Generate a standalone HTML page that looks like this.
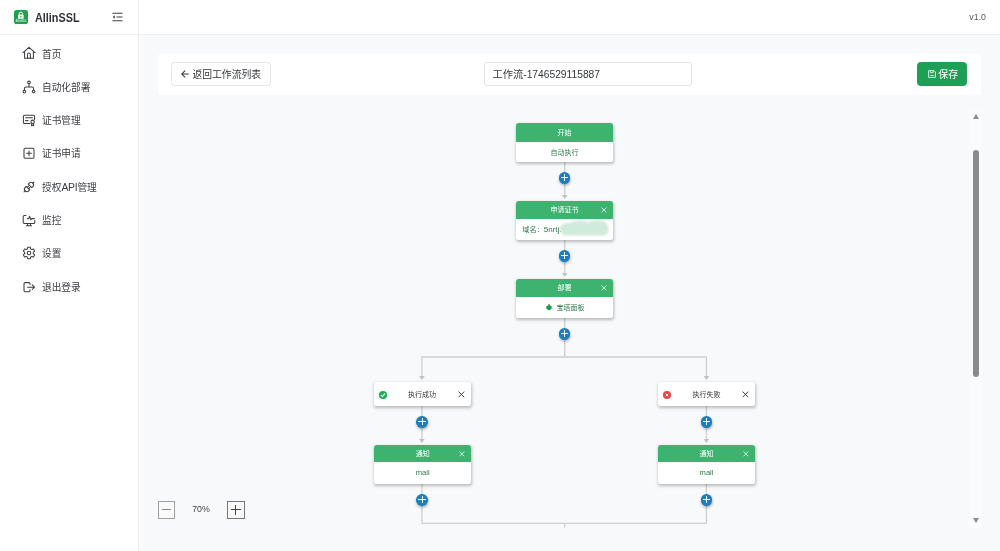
<!DOCTYPE html>
<html lang="zh-CN">
<head>
<meta charset="utf-8">
<title>AllinSSL</title>
<style>
*{box-sizing:border-box;margin:0;padding:0}
html,body{width:1000px;height:551px;overflow:hidden}
body{position:relative;background:#f8f9fb;font-family:"Liberation Sans","Noto Sans CJK SC",sans-serif;color:#333639;font-size:9.8px}
.abs{position:absolute}
#side{position:absolute;left:0;top:35px;width:139px;height:516px;background:#fff;border-right:1px solid #ececf0}
#top{position:absolute;left:0;top:0;width:1000px;height:35px;background:#fff;border-bottom:1px solid #efeff2}
#brand{position:absolute;left:35px;top:10px;font-size:12.4px;font-weight:bold;color:#303236;line-height:16px;transform:scaleX(.875);transform-origin:0 0}
#ver{position:absolute;right:14px;top:11.3px;font-size:8.8px;color:#55585c;line-height:12px}
.mi{position:absolute;left:42px;height:14px;line-height:14px;font-size:9.7px;color:#3a3c40;white-space:nowrap}
.ico{position:absolute;left:22px;width:14px;height:14px}
.ico svg{display:block;width:14px;height:14px;fill:none;stroke:#3c3f43;stroke-width:1.05;stroke-linecap:round;stroke-linejoin:round}
#bar{position:absolute;left:158px;top:53.5px;width:823px;height:41.5px;background:#fff;border-radius:3px}
.btn{position:absolute;top:62.4px;height:23.2px;border:1px solid #e4e4e9;border-radius:3px;background:#fff;font-size:9.8px;line-height:23.6px;color:#333639;white-space:nowrap}
.node{position:absolute;width:97.3px;background:#fff;border-radius:2.8px;box-shadow:.3px 1.2px 3.2px rgba(0,0,0,.25);overflow:hidden}
.node .h{height:18px;background:#3eb370;color:#fff;font-size:7px;line-height:18.8px;text-align:center;position:relative}
.node .b{height:21px;color:#30794f;font-size:7px;line-height:21.6px;text-align:center;white-space:nowrap}
.cond{position:absolute;width:97.3px;height:24.3px;background:#fff;border-radius:2.8px;box-shadow:.3px 1.2px 3.2px rgba(0,0,0,.25);font-size:7px;line-height:25.3px;text-align:center;color:#333}
.x{position:absolute;right:6.4px;top:50%;width:5.8px;height:5.8px;margin-top:-2.7px}
.x svg{display:block;width:5.8px;height:5.8px}
.plus{position:absolute;width:11.6px;height:11.6px;border-radius:50%;background:#1c7dc0;box-shadow:.4px 1.4px 3px rgba(0,0,0,.32)}
.plus:before{content:"";position:absolute;left:2.2px;right:2.2px;top:5.35px;height:.9px;background:rgba(255,255,255,.95)}
.plus:after{content:"";position:absolute;top:2.2px;bottom:2.2px;left:5.35px;width:.9px;background:rgba(255,255,255,.95)}
.vl{position:absolute;width:1.5px;background:#d2d2d2}
.hl{position:absolute;height:1.5px;background:#d2d2d2}
.ar{position:absolute;width:0;height:0;border-left:3.2px solid transparent;border-right:3.2px solid transparent;border-top:4.6px solid #c6c6c6}
.zb{position:absolute;top:501px;width:17.5px;height:17.5px;border:1px solid #8e8e8e;background:#fafafa}
</style>
</head>
<body>
<div id="wrap" style="position:absolute;left:0;top:0;width:1000px;height:551px;will-change:transform">
<div id="top"></div>
<div id="side"></div>
<div class="abs" style="left:138px;top:0;width:1px;height:35px;background:#f0f0f3"></div>
<div class="abs" style="left:139px;top:35px;width:7px;height:516px;background:linear-gradient(to right,#fcfcfd,#f8f9fb)"></div>
<!-- brand -->
<div class="abs" style="left:14px;top:10px;width:14px;height:14px;border-radius:2.600px;background:#21a04c;overflow:hidden">
<svg viewBox="0 0 14 14" width="14" height="14" style="display:block"><rect x="4.100" y="4.500" width="5.500" height="4.300" rx=".5" fill="#fff"/><path d="M5.200 4.600V3.700a1.650 1.650 0 0 1 3.300 0V4.600" fill="none" stroke="#fff" stroke-width="1"/><rect x="6.200" y="5.700" width="1.300" height="1.700" rx=".4" fill="#21a04c"/><text x="7" y="11.900" font-size="2.700" font-weight="bold" text-anchor="middle" fill="#c4ebd0" font-family="Liberation Sans, sans-serif">AllinSSL</text></svg>
</div>
<div id="brand">AllinSSL</div>
<svg class="abs" style="left:112px;top:12.300px" width="11" height="10" viewBox="0 0 11 10" fill="none" stroke="#3c3f43" stroke-width="1.050"><path d="M0.5 1.200H10.500M4.500 5H10.500M0.500 8.800H10.500"/><path d="M2.8 3.2L0.6 5l2.2 1.8z" fill="#45484c" stroke="none"/></svg>
<div id="ver">v1.0</div>

<!-- menu -->
<div class="ico" style="top:46px"><svg viewBox="0 0 14 14"><path d="M1 6.6L7 1.3l6 5.3"/><path d="M2.6 5.6v6.6h8.8V5.6"/><path d="M5.6 12.2V8.4a1.4 1.4 0 0 1 2.8 0v3.8"/></svg></div>
<div class="mi" style="top:47.5px">首页</div>
<div class="ico" style="top:79.7px"><svg viewBox="0 0 14 14"><circle cx="7" cy="2.4" r="1.3"/><circle cx="2.4" cy="11.6" r="1.3"/><circle cx="11.6" cy="11.6" r="1.3"/><path d="M7 3.7v3.2M2.4 10.3V8.4a1.5 1.5 0 0 1 1.5-1.5h6.2a1.5 1.5 0 0 1 1.5 1.5v1.9"/></svg></div>
<div class="mi" style="top:80.8px">自动化部署</div>
<div class="ico" style="top:113.400px"><svg viewBox="0 0 14 14"><path d="M8 10.4H2.6A1.2 1.2 0 0 1 1.4 9.200000000000001V3.4A1.2 1.2 0 0 1 2.6 2.2h8.8a1.2 1.2 0 0 1 1.2 1.2v3"/><path d="M3.6 4.8h6.8M3.600 7.6h2.400"/><circle cx="10.600" cy="8.8" r="1.7"/><path d="M9.6 10.200v2.600l1-.7 1 .7v-2.600"/></svg></div>
<div class="mi" style="top:114.1px">证书管理</div>
<div class="ico" style="top:146.300px"><svg viewBox="0 0 14 14"><rect x="2" y="2.300" width="10" height="10" rx="1.400"/><path d="M7 4.900v4.800M4.600 7.300h4.800"/></svg></div>
<div class="mi" style="top:147.4px">证书申请</div>
<div class="ico" style="top:179.600px"><svg viewBox="0 0 14 14"><g transform="rotate(-45 7 7)"><path d="M0 7H1.600M12.400 7H14"/><path d="M5.500 4.500H4.100A2.500 2.500 0 0 0 4.100 9.500H5.500Z"/><path d="M8.500 4.500H9.900A2.500 2.500 0 0 1 9.900 9.500H8.500Z"/><path d="M5.500 6H7.300M5.500 8H7.300"/></g></svg></div>
<div class="mi" style="top:180.7px">授权<span style="font-size:10.400px;letter-spacing:-.25px">API</span>管理</div>
<div class="ico" style="top:213px"><svg viewBox="0 0 14 14"><path d="M4 2.400H2.400A1.200 1.200 0 0 0 1.200 3.600v5.600a1.200 1.200 0 0 0 1.200 1.200h9.200a1.200 1.200 0 0 0 1.200-1.200V7.600"/><path d="M5.400 5.600h1.200l1-2.400 1.200 3.600.8-1.200h2.800"/><path d="M4.400 12.800h5.200M5.600 10.400v2.400M8.400 10.400v2.400"/></svg></div>
<div class="mi" style="top:214.1px">监控</div>
<div class="ico" style="top:246.300px"><svg viewBox="0 0 14 14"><circle cx="7" cy="7" r="1.800"/><path d="M5.800 1.200h2.400l.4 1.700 1.100.6 1.700-.5 1.200 2.100-1.300 1.200v1.400l1.300 1.200-1.200 2.100-1.700-.5-1.100.6-.4 1.700H5.800l-.4-1.700-1.100-.6-1.700.5-1.200-2.100 1.300-1.200V6.300L1.400 5.100l1.200-2.100 1.700.5 1.100-.6z"/></svg></div>
<div class="mi" style="top:247.4px">设置</div>
<div class="ico" style="top:279.700px"><svg viewBox="0 0 14 14"><path d="M8 4.600V3.800A1.200 1.200 0 0 0 6.800 2.600H3.200A1.200 1.200 0 0 0 2 3.800v6.800a1.200 1.200 0 0 0 1.200 1.200h3.600A1.200 1.200 0 0 0 8 10.600v-.8"/><path d="M5.600 7.200h6.800M10.200 4.900l2.300 2.300-2.300 2.300"/></svg></div>
<div class="mi" style="top:280.8px">退出登录</div>

<!-- toolbar -->
<div id="bar"></div>
<div class="btn" style="left:171.300px;width:99.500px;padding-left:20.200px;border-color:#e4e4e9;border-radius:3.500px"><svg class="abs" style="left:9px;top:7px" width="8" height="8" viewBox="0 0 8 8" fill="none" stroke="#333639" stroke-width="1.050"><path d="M7.700 4H.8M4.100.7L.8 4l3.300 3.300"/></svg>返回工作流列表</div>
<div class="btn" style="left:484px;width:208px;padding-left:7.5px;font-size:10.25px">工作流-1746529115887</div>
<div class="btn" style="left:917px;width:50.300px;background:#1d9f55;border-color:#1d9f55;color:#fff;padding-left:20.200px;font-size:10px;border-radius:3.500px">保存</div>
<svg class="abs" style="left:928px;top:70.200px" width="8" height="8" viewBox="0 0 8 8" fill="none" stroke="#fff" stroke-width=".8"><path d="M.6.600H6l1.400 1.400v5.400H.6z"/><path d="M2.400.6v2h2.800v-2M2.200 5.400h3.600"/></svg>

<!-- scrollbar -->
<div class="abs" style="left:969px;top:110px;width:13px;height:418px;background:#fbfbfc"></div>
<div class="abs" style="left:973px;top:150px;width:6px;height:227px;border-radius:3px;background:#8b8b8b"></div>
<div class="abs" style="left:972.600px;top:114.300px;width:0;height:0;border-left:3.400px solid transparent;border-right:3.400px solid transparent;border-bottom:5px solid #8b8b8b"></div>
<div class="abs" style="left:972.600px;top:517.800px;width:0;height:0;border-left:3.400px solid transparent;border-right:3.400px solid transparent;border-top:5px solid #8b8b8b"></div>

<!-- flow lines -->
<svg class="abs" style="left:0;top:0" width="1000" height="551" viewBox="0 0 1000 551">
<g stroke="#d0d0d0" stroke-width="1.350" fill="none"><path d="M564.700 162V196M564.700 240V274M564.700 318V357M421.900 377V357H706.400V377M421.900 406V440M706.400 406V440M421.900 484V523.300H706.400V484M564.700 523.300V527.500"/></g>
<g fill="#c2c2c2"><path d="M561.9 195.1h5.6l-2.8 3.9z"/><path d="M561.9 273.0h5.6l-2.8 3.9z"/><path d="M419.1 376.1h5.6l-2.8 3.9z"/><path d="M703.6 376.1h5.6l-2.8 3.9z"/><path d="M419.1 439.0h5.6l-2.8 3.9z"/><path d="M703.6 439.0h5.6l-2.8 3.9z"/></g>
</svg>

<!-- nodes -->
<div class="node" style="left:515.900px;top:123px"><div class="h" style="height:18.600px;line-height:19.200px">开始</div><div class="b" style="height:20.400px;line-height:21px">自动执行</div></div>
<div class="plus" style="left:558.700px;top:172px"></div>
<div class="node" style="left:515.900px;top:201px"><div class="h">申请证书<span class="x"><svg viewBox="0 0 7 7" stroke="#fff" stroke-width=".9"><path d="M.6.600l5.800 5.800M6.400.6L.6 6.400"/></svg></span></div><div class="b" style="text-align:left;padding-left:6.300px;font-size:7.200px;position:relative">域名：<span style="font-size:8px">5nrtj.</span><svg class="abs" style="left:42.500px;top:0" width="54" height="21" viewBox="0 0 54 21"><defs><filter id="bl" x="-10%" y="-20%" width="120%" height="140%"><feGaussianBlur stdDeviation=".9"/></filter></defs><g filter="url(#bl)" fill="#d0ebdb"><rect x="2.500" y="4.500" width="48" height="12" rx="5.500"/><ellipse cx="22" cy="7" rx="12" ry="5.500"/><ellipse cx="39" cy="6.500" rx="10.500" ry="5.500"/><ellipse cx="9" cy="9.500" rx="7" ry="5.500"/></g></svg></div></div>
<div class="plus" style="left:558.700px;top:250px"></div>
<div class="node" style="left:515.900px;top:279px"><div class="h">部署<span class="x"><svg viewBox="0 0 7 7" stroke="#fff" stroke-width=".9"><path d="M.6.600l5.800 5.800M6.400.6L.6 6.400"/></svg></span></div><div class="b"><svg width="6" height="6.900" viewBox="0 0 7 8" style="vertical-align:middle;margin-right:4.400px;margin-left:1.600px;position:relative;top:-.5px"><path d="M3.500 1.200L6.600 2.600V5.600L3.500 7.600.4 5.600V2.600z" fill="#1e9a4d"/><path d="M2.500.4h2v1.200h-2z" fill="#1e9a4d"/></svg>宝塔面板</div></div>
<div class="plus" style="left:558.700px;top:328px"></div>

<div class="cond" style="left:374.100px;top:382px;padding-right:1.400px"><svg class="abs" style="left:3.700px;top:7.600px" width="10" height="10" viewBox="0 0 10 10"><circle cx="5" cy="5" r="4.100" fill="#1eae55"/><path d="M3 5.100l1.400 1.400 2.600-2.800" fill="none" stroke="#fff" stroke-width="1.100"/></svg>执行成功<span class="x" style="width:6.800px;height:6.800px;margin-top:-3.200px;right:6.900px"><svg style="width:6.800px;height:6.800px" viewBox="0 0 7 7" stroke="#333" stroke-width=".95"><path d="M.6.600l5.800 5.800M6.400.6L.6 6.400"/></svg></span></div>
<div class="plus" style="left:416.200px;top:416px"></div>
<div class="node" style="left:374.100px;top:445px"><div class="h" style="height:17px;line-height:17.800px">通知<span class="x"><svg viewBox="0 0 7 7" stroke="#fff" stroke-width=".9"><path d="M.6.600l5.800 5.800M6.400.6L.6 6.400"/></svg></span></div><div class="b" style="font-size:7.600px;height:22px;line-height:21.600px">mail</div></div>
<div class="plus" style="left:416.200px;top:494px"></div>

<div class="cond" style="left:657.900px;top:382px"><svg class="abs" style="left:3.700px;top:7.600px" width="10" height="10" viewBox="0 0 10 10"><circle cx="5" cy="5" r="4.100" fill="#e5484d"/><path d="M3.800 3.800l2.400 2.400M6.200 3.800L3.800 6.200" fill="none" stroke="#fff" stroke-width=".9"/></svg>执行失败<span class="x" style="width:6.800px;height:6.800px;margin-top:-3.200px;right:6.100px"><svg style="width:6.800px;height:6.800px" viewBox="0 0 7 7" stroke="#333" stroke-width=".95"><path d="M.6.600l5.800 5.800M6.400.6L.6 6.400"/></svg></span></div>
<div class="plus" style="left:700.700px;top:416px"></div>
<div class="node" style="left:657.900px;top:445px"><div class="h" style="height:17px;line-height:17.800px">通知<span class="x"><svg viewBox="0 0 7 7" stroke="#fff" stroke-width=".9"><path d="M.6.600l5.800 5.800M6.400.6L.6 6.400"/></svg></span></div><div class="b" style="font-size:7.600px;height:22px;line-height:21.600px">mail</div></div>
<div class="plus" style="left:700.700px;top:494px"></div>

<!-- zoom -->
<div class="zb" style="left:157.600px;border-color:#a0a0a0"><div class="abs" style="left:3px;top:7.400px;width:9.600px;height:1px;background:#888"></div></div>
<div class="abs" style="left:186px;top:503.400px;width:30px;text-align:center;font-size:8.800px;line-height:13px;color:#444">70%</div>
<div class="zb" style="left:227px;border-color:#777"><div class="abs" style="left:2.800px;top:7.400px;width:10px;height:1px;background:#444"></div><div class="abs" style="left:7.300px;top:2.900px;width:1px;height:10px;background:#444"></div></div>
</div>
</body>
</html>
